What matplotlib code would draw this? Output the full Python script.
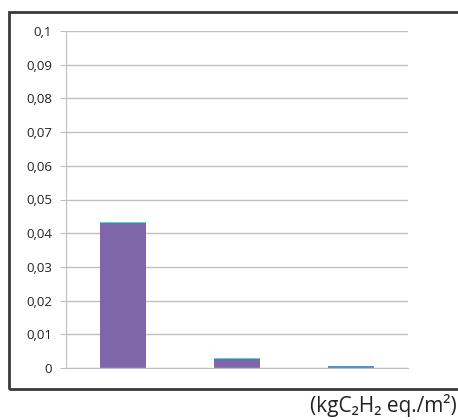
import matplotlib.pyplot as plt
from matplotlib.patches import Rectangle
import numpy as np

# three scenarios, stacked contributions (kgC2H2 eq./m2)
categories = ["A", "B", "C"]
bottom_part = [0.0002, 0.0002, 0.0006]   # blue
middle_part = [0.0428, 0.0026, 0.0]      # purple
top_part = [0.0003, 0.0002, 0.0]         # light cyan
yticks = [0, 0.01, 0.02, 0.03, 0.04, 0.05, 0.06, 0.07, 0.08, 0.09, 0.1]
ytick_labels = ["0", "0,01", "0,02", "0,03", "0,04", "0,05", "0,06",
                "0,07", "0,08", "0,09", "0,1"]
unit_label = "(kgC\u2082H\u2082 eq./m\u00b2)"

plt.rcParams['font.family'] = ['Open Sans', 'DejaVu Sans']

fig = plt.figure(figsize=(4.58, 4.2), dpi=100)

# outer chart frame (right edge runs off the picture)
fig.patches.append(Rectangle((0.0197, 0.0738), 1.0, 0.8976, transform=fig.transFigure,
                             fill=False, edgecolor="#3a3a3a", linewidth=2.0))

ax = fig.add_axes([0.1441, 0.1238, 0.7467, 0.8024])

x = np.arange(len(categories))
w = 0.4
b1 = np.array(bottom_part)
b2 = b1 + np.array(middle_part)
ax.bar(x, bottom_part, w, color="#5B8FD0", zorder=3)
ax.bar(x, middle_part, w, bottom=b1, color="#7F65A9", zorder=3)
ax.bar(x, top_part, w, bottom=b2, color="#74C6D8", zorder=3)

ax.set_xlim(-0.5, 2.5)
ax.set_ylim(0, 0.1)
ax.set_yticks(yticks)
ax.set_yticklabels(ytick_labels, fontsize=9.5, color="#222222")
ax.set_xticks([])
ax.yaxis.grid(True, color="#BFBFBF", linewidth=1.0)
ax.set_axisbelow(True)
for s in ["top", "right"]:
    ax.spines[s].set_visible(False)
ax.spines["left"].set_color("#BFBFBF")
ax.spines["bottom"].set_color("#BFBFBF")
ax.tick_params(axis="y", length=4, color="#BFBFBF", pad=6)

fig.text(0.997, 0.008, unit_label, ha="right", va="bottom", fontsize=15, color="#222222")

fig.savefig("out.png", dpi=100)
